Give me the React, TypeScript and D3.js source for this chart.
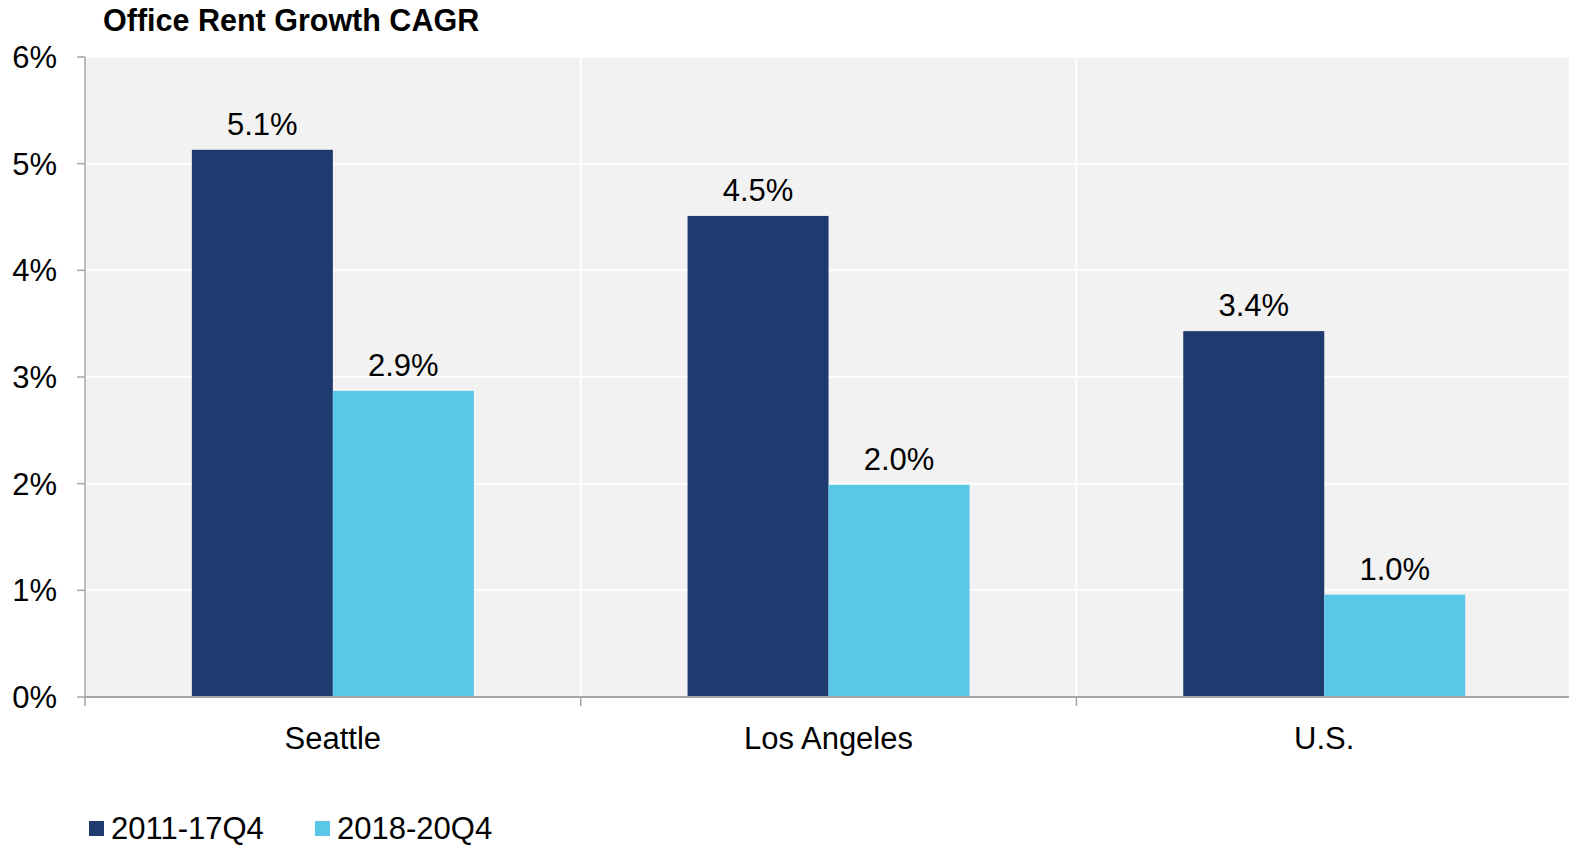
import React from "react";
import * as d3 from "d3";

const categories = ["Seattle", "Los Angeles", "U.S."];
const seriesNames = ["2011-17Q4", "2018-20Q4"];
const series2011 = [5.13, 4.51, 3.43];
const series2018 = [2.87, 1.99, 0.96];
const labels2011 = ["5.1%", "4.5%", "3.4%"];
const labels2018 = ["2.9%", "2.0%", "1.0%"];
const yTicks = [0, 1, 2, 3, 4, 5, 6];
const colors = ["#1f3a6e", "#5bc7e8"];

const W = 1569;
const H = 846;
const left = 85;
const top = 57;
const bottom = 697;
const catW = 495.7;
const right = left + catW * 3;
const FS = 31;

export default function App() {
  const y = d3.scaleLinear().domain([0, 6]).range([bottom, top]);
  const x0 = d3.scaleBand().domain(categories).range([left, right]).paddingInner(0).paddingOuter(0);
  const groupW = 282;
  const x1 = d3.scaleBand().domain(seriesNames).range([0, groupW]).padding(0);
  const font = "'Liberation Sans', Arial, sans-serif";
  const values = [series2011, series2018];
  const lbls = [labels2011, labels2018];

  return (
    <svg width={W} height={H} style={{ position: "absolute", left: 0, top: 0 }} fontFamily={font}>
      <rect x={0} y={0} width={W} height={H} fill="#ffffff" />
      <text x={103} y={31} fontSize={30.5} fontWeight="bold" fill="#000">
        Office Rent Growth CAGR
      </text>
      <rect x={left} y={top} width={right - left} height={bottom - top} fill="#f2f2f2" />
      {yTicks.slice(1).map((t) => (
        <line key={t} x1={left} x2={right} y1={y(t)} y2={y(t)} stroke="#ffffff" strokeWidth={2} />
      ))}
      {categories.slice(1).map((c) => (
        <line key={c} x1={x0(c)} x2={x0(c)} y1={top} y2={bottom} stroke="#ffffff" strokeWidth={2} />
      ))}
      {categories.slice(1).map((c) => (
        <line key={"t" + c} x1={x0(c)} x2={x0(c)} y1={bottom} y2={bottom + 9} stroke="#a6a6a6" strokeWidth={1.5} />
      ))}
      {categories.map((c) => {
        const gx = (x0(c) as number) + (x0.bandwidth() - groupW) / 2;
        return (
          <g key={c}>
            {seriesNames.map((s, si) => {
              const v = values[si][categories.indexOf(c)];
              const bx = gx + (x1(s) as number);
              return (
                <g key={s}>
                  <rect x={bx} y={y(v)} width={x1.bandwidth()} height={bottom - y(v)} fill={colors[si]} />
                  <text x={bx + x1.bandwidth() / 2} y={y(v) - 15} textAnchor="middle" fontSize={FS} fill="#000">
                    {lbls[si][categories.indexOf(c)]}
                  </text>
                </g>
              );
            })}
            <text x={(x0(c) as number) + x0.bandwidth() / 2} y={749} textAnchor="middle" fontSize={FS} fill="#000">
              {c}
            </text>
          </g>
        );
      })}
      <line x1={left} x2={right} y1={bottom} y2={bottom} stroke="#a6a6a6" strokeWidth={2} />
      <line x1={left} x2={left} y1={top} y2={bottom + 9} stroke="#a6a6a6" strokeWidth={1.5} />
      {yTicks.map((t) => (
        <g key={t}>
          <line x1={left - 8} x2={left} y1={y(t)} y2={y(t)} stroke="#a6a6a6" strokeWidth={1.5} />
          <text x={57} y={y(t) + 11} textAnchor="end" fontSize={FS} fill="#000">
            {t}%
          </text>
        </g>
      ))}
      {seriesNames.map((s, i) => (
        <g key={s} transform={`translate(${89 + i * 226},0)`}>
          <rect x={0} y={821} width={15} height={15} fill={colors[i]} />
          <text x={22} y={839} fontSize={FS} fill="#000">
            {s}
          </text>
        </g>
      ))}
    </svg>
  );
}
